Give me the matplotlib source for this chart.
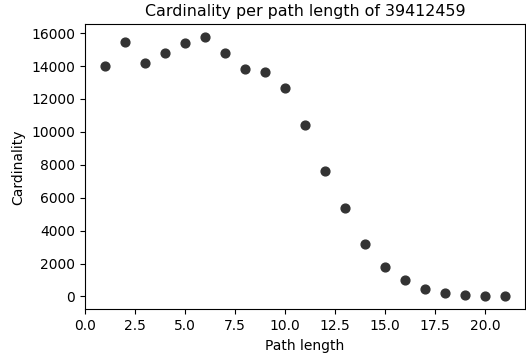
import numpy as np
import matplotlib
matplotlib.use('Agg')
import matplotlib.pyplot as plt

# path length vs cardinality
path_length = [1, 2, 3, 4, 5, 6, 7, 8, 9, 10, 11,
               12, 13, 14, 15, 16, 17, 18, 19, 20, 21]
cardinality = [14000, 15480, 14160, 14790, 15420, 15750, 14790, 13840, 13620, 12680, 10420,
               7610, 5390, 3170, 1800, 1000, 460, 220, 70, 15, 5]

#-------------------------------------------------------------------------------
fig = plt.figure(figsize = (5.26, 3.56), dpi = 100)
ax = fig.add_axes([85 / 526, (356 - 309.3) / 356, 440 / 526, (309.3 - 24.3) / 356])

ax.scatter(path_length, cardinality, s = 40, color = '#333333')
ax.set_title('Cardinality per path length of 39412459', fontsize = 11.4)
ax.set_xlabel('Path length', fontsize = 10)
ax.set_ylabel('Cardinality', fontsize = 10)
ax.tick_params(labelsize = 10)

fig.savefig('out.png', dpi = 100)
